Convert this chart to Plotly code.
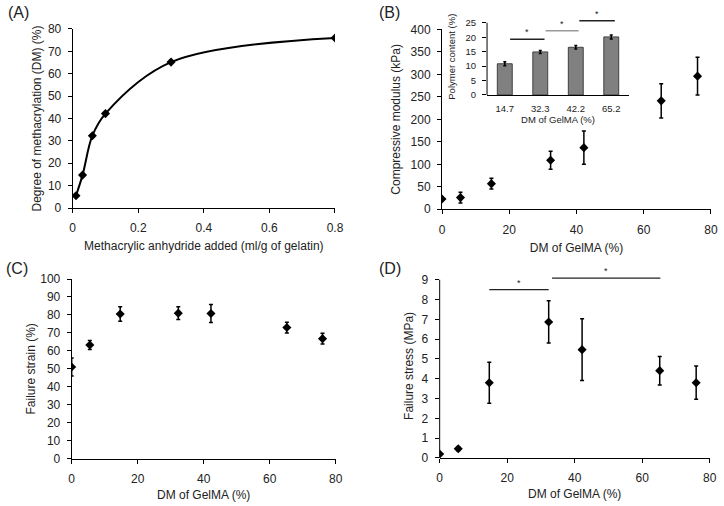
import plotly.graph_objects as go

# ---- data ----
ma_added = [0.01, 0.03, 0.06, 0.1, 0.3, 0.8]
dm_a = [5.5, 14.7, 32.3, 42.2, 65.2, 76]

dm = [0, 5.5, 14.7, 32.3, 42.2, 65.2, 76]
modulus = [23, 26, 57, 109, 137, 241, 296]
modulus_err = [4, 12, 12, 20, 37, 38, 42]
strain = [51, 63.3, 80.5, 81, 80.8, 73, 66.8]
strain_err = [5, 2.5, 4, 3.5, 5, 3, 3]
stress = [0.2, 0.47, 3.8, 6.87, 5.47, 4.41, 3.8]
stress_err = [0.05, 0.1, 1.04, 1.07, 1.56, 0.72, 0.84]

inset_labels = ["14.7", "32.3", "42.2", "65.2"]
polymer = [10.8, 14.9, 16.5, 20.1]
polymer_err = [0.7, 0.5, 0.6, 0.7]

# significance brackets (x0, x1, y, color)
inset_sig = [(0.15, 1.12, 19.3, "#222"), (1.15, 2.08, 22.2, "#999"), (2.1, 3.1, 25.7, "#222")]
d_sig = [(14.7, 32.3, 8.5), (33.3, 65.4, 9.08)]

FONT = "Liberation Sans, Arial, sans-serif"
TXT = "#222"

fig = go.Figure()

mk = dict(symbol="diamond", size=7, color="black")

fig.add_trace(go.Scatter(x=ma_added, y=dm_a, mode="lines+markers",
                         line=dict(color="black", width=2, shape="spline", smoothing=1.0),
                         marker=mk, xaxis="x", yaxis="y"))

def err(e):
    return dict(type="data", array=e, visible=True, color="black", thickness=1.5, width=2)

fig.add_trace(go.Scatter(x=dm, y=modulus, mode="markers", marker=mk, error_y=err(modulus_err),
                         xaxis="x2", yaxis="y2"))
fig.add_trace(go.Scatter(x=dm, y=strain, mode="markers", marker=mk, error_y=err(strain_err),
                         xaxis="x3", yaxis="y3"))
fig.add_trace(go.Scatter(x=dm, y=stress, mode="markers", marker=mk, error_y=err(stress_err),
                         xaxis="x4", yaxis="y4"))
fig.add_trace(go.Bar(x=list(range(len(polymer))), y=polymer, width=0.42,
                     marker=dict(color="#808080", line=dict(color="#404040", width=1)),
                     error_y=dict(type="data", array=polymer_err, visible=True, color="black",
                                  thickness=1.5, width=1.5),
                     xaxis="x5", yaxis="y5"))

def ax(domain, rng, dtick, title, anchor, is_y, tickvals=None, showline=True, tfs=12, standoff=None):
    d = dict(domain=domain, range=rng, showgrid=False, zeroline=False, showline=showline,
             linecolor="black", linewidth=1, ticks="outside", ticklen=4, tickcolor="black",
             automargin=False,
             tickfont=dict(family=FONT, size=tfs, color=TXT), anchor=anchor,
             ticklabelstandoff=4 if is_y else 5,
             title=dict(text=title, font=dict(family=FONT, size=tfs, color=TXT),
                        standoff=standoff if standoff is not None else 7))
    if tickvals is not None:
        d["tickmode"] = "array"
        d["tickvals"] = tickvals
    else:
        d["tick0"] = 0
        d["dtick"] = dtick
    return d

fig.update_layout(
    width=724, height=506, autosize=False, showlegend=False,
    margin=dict(l=0, r=0, t=0, b=0),
    paper_bgcolor="white", plot_bgcolor="white",
    xaxis=ax([0.1004, 0.4627], [0, 0.8], 0.2, "Methacrylic anhydride added (ml/g of gelatin)", "y", False),
    yaxis=ax([0.5889, 0.9427], [0, 80], 10, "Degree of methacrylation (DM) (%)", "x", True, standoff=3),
    xaxis2=ax([0.6105, 0.982], [0, 80], 20, "DM of GelMA (%)", "y2", False),
    yaxis2=ax([0.5864, 0.942], [0, 400], 50, "Compressive modulus (kPa)", "x2", True, standoff=7),
    xaxis3=ax([0.099, 0.4637], [0, 80], 20, "DM of GelMA (%)", "y3", False, standoff=5),
    yaxis3=ax([0.0935, 0.4486], [0, 100], 10, "Failure strain (%)", "x3", True, standoff=2),
    xaxis4=ax([0.6073, 0.9802], [0, 80], 20, "DM of GelMA (%)", "y4", False, standoff=5),
    yaxis4=ax([0.0949, 0.4589], [0, 9.3], 1, "Failure stress (MPa)", "x4", True,
              tickvals=list(range(10)), showline=False, standoff=5),
    xaxis5=ax([0.6727, 0.8688], [-0.5, 3.5], 1, "DM of GelMA (%)", "y5", False,
              tickvals=list(range(4)), tfs=9.5, standoff=2),
    yaxis5=ax([0.8123, 0.9636], [0, 26.5], 5, "Polymer content (%)", "x5", True,
              tickvals=[0, 5, 10, 15, 20, 25], showline=False, tfs=9.5, standoff=8),
)
fig.layout.xaxis5.ticktext = inset_labels
fig.layout.xaxis5.ticks = ""

shapes = []
# manual y axis lines that stop at the top tick
shapes.append(dict(type="line", xref="x4 domain", yref="y4", x0=0, x1=0, y0=0, y1=9,
                   line=dict(color="black", width=1)))
shapes.append(dict(type="line", xref="x5 domain", yref="y5", x0=0, x1=0, y0=0, y1=25,
                   line=dict(color="black", width=1)))
for x0, x1, y, c in inset_sig:
    shapes.append(dict(type="line", xref="x5", yref="y5", x0=x0, x1=x1, y0=y, y1=y,
                       line=dict(color=c, width=1.5)))
for x0, x1, y in d_sig:
    shapes.append(dict(type="line", xref="x4", yref="y4", x0=x0, x1=x1, y0=y, y1=y,
                       line=dict(color="#222", width=1.2)))
fig.update_layout(shapes=shapes)

ann = []
for x0, x1, y, c in inset_sig:
    ann.append(dict(xref="x5", yref="y5", x=(x0 + x1) / 2, y=y, text="*", showarrow=False,
                    yanchor="bottom", font=dict(family=FONT, size=9, color=TXT)))
for x0, x1, y in d_sig:
    ann.append(dict(xref="x4", yref="y4", x=(x0 + x1) / 2, y=y, text="*", showarrow=False,
                    yanchor="bottom", font=dict(family=FONT, size=9, color=TXT)))
for lab, px, py in [("(A)", 6, 13), ("(B)", 377, 13), ("(C)", 4, 268), ("(D)", 377, 268)]:
    ann.append(dict(xref="paper", yref="paper", x=px / 724, y=1 - py / 506, text=lab,
                    showarrow=False, xanchor="left", yanchor="middle",
                    font=dict(family=FONT, size=16, color=TXT)))
fig.update_layout(annotations=ann)

fig.write_html("out.html", config={"displayModeBar": False},
               post_script="document.body.style.margin='0';document.body.style.overflow='hidden';")
